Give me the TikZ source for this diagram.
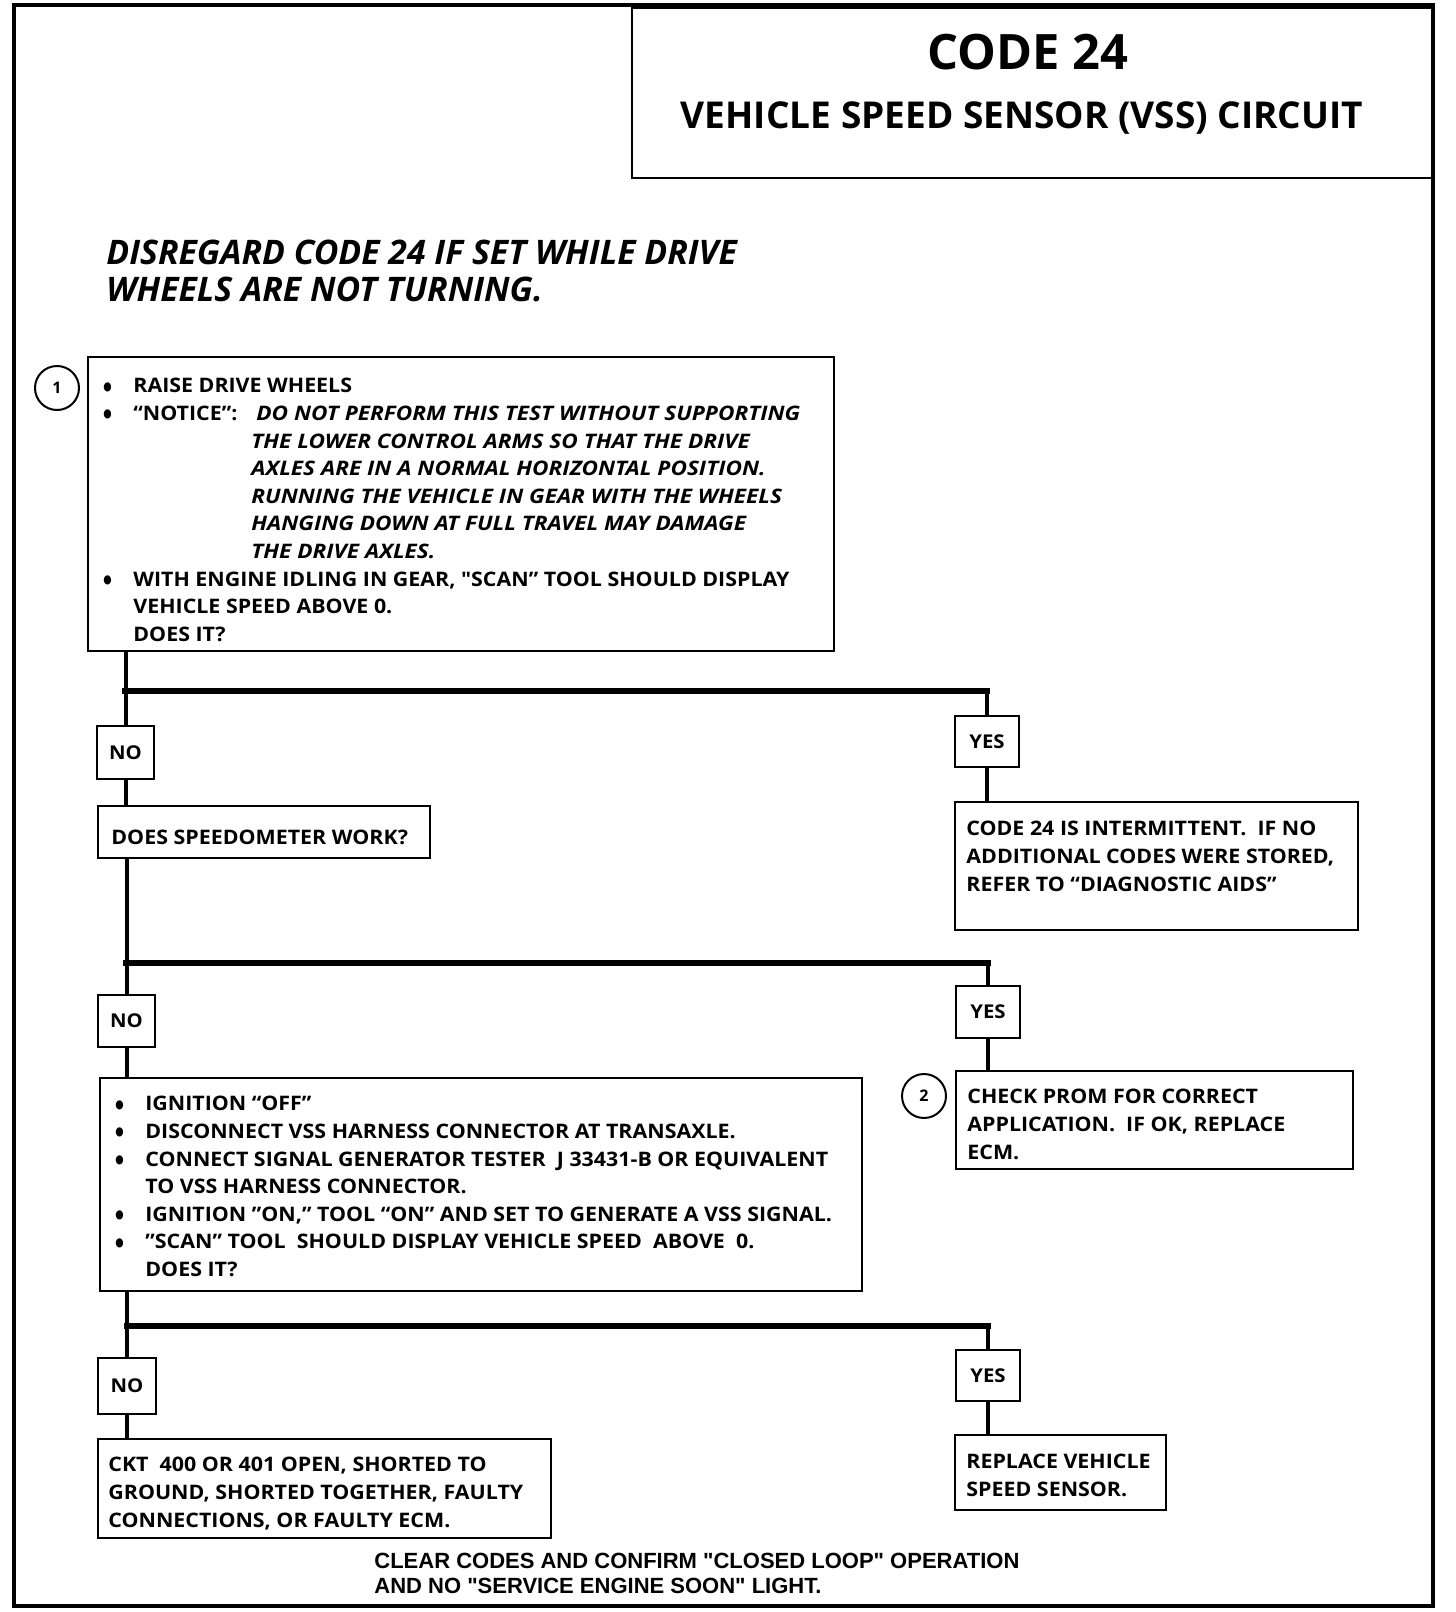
\documentclass[tikz,border=0pt]{standalone}
\usepackage{fontspec}
\setmainfont{Open Sans}
\newfontfamily\body{Open Sans}[FakeStretch=1.07]
\newfontfamily\bodyit{Open Sans}[FakeStretch=1.13]
\newfontfamily\helv{Liberation Sans}
\newfontfamily\dvs{DejaVu Sans}
\newcommand\bla{\makebox[15pt][l]{\raisebox{1.3pt}{\dvs\fontsize{6}{6}\selectfont\scalebox{0.8}[1]{●}}}}
\begin{document}
\begin{tikzpicture}[x=0.5pt,y=-0.5pt,
  box/.style={draw, line width=1pt, anchor=north west, inner sep=0pt, outer sep=0pt},
  txt/.style={anchor=north west, inner sep=0pt, align=left, font=\body\bfseries\fontsize{10}{13.8}\selectfont},
  one/.style={anchor=base west, inner sep=0pt, font=\body\bfseries\fontsize{10}{13.8}\selectfont},
  lbl/.style={draw, line width=1pt, inner sep=0pt, outer sep=0pt, font=\body\bfseries\fontsize{9.5}{11}\selectfont},
  num/.style={circle, draw, line width=1pt, minimum size=22pt, inner sep=0pt, font=\bfseries\fontsize{8}{9}\selectfont},
  hline/.style={line width=3.2pt, line cap=rect},
  vline/.style={line width=2pt}]
\useasboundingbox (0,0) rectangle (1456,1612);
\draw[line width=2pt] (14,5) rectangle (1433,1606);

% title
\node[box, minimum width=400pt, minimum height=85pt] (title) at (632,8) {};
\node[anchor=base, inner sep=0pt, font=\bfseries\fontsize{24.4}{28}\selectfont] (code) at (1028,69.5) {CODE 24};
\node[anchor=base, inner sep=0pt, font=\bfseries\fontsize{18.5}{22}\selectfont] (vss) at (1022,128.5) {VEHICLE SPEED SENSOR (VSS) CIRCUIT};

\node[anchor=north west, inner sep=0pt, align=left, font=\bfseries\itshape\fontsize{16.9}{18.5}\selectfont] (dis) at (106,240) {DISREGARD CODE 24 IF SET WHILE DRIVE\\WHEELS ARE NOT TURNING.};

% step 1
\node[num] (c1) at (57,388) {1};
\node[box, minimum width=373pt, minimum height=147pt] (b1) at (88,357) {};
\node[txt] (t1) at (103,378) {\bla RAISE DRIVE WHEELS\\
\bla\makebox[61.5pt][l]{“NOTICE”:}{\bodyit\itshape DO NOT PERFORM THIS TEST WITHOUT SUPPORTING}\\
\hspace*{74pt}{\bodyit\itshape THE LOWER CONTROL ARMS SO THAT THE DRIVE}\\
\hspace*{74pt}{\bodyit\itshape AXLES ARE IN A NORMAL HORIZONTAL POSITION.}\\
\hspace*{74pt}{\bodyit\itshape RUNNING THE VEHICLE IN GEAR WITH THE WHEELS}\\
\hspace*{74pt}{\bodyit\itshape HANGING DOWN AT FULL TRAVEL MAY DAMAGE}\\
\hspace*{74pt}{\bodyit\itshape THE DRIVE AXLES.}\\
\bla WITH ENGINE IDLING IN GEAR, "SCAN” TOOL SHOULD DISPLAY\\
\hspace*{15pt}VEHICLE SPEED ABOVE 0.\\
\hspace*{15pt}DOES IT?};

\coordinate (br1) at (0,691);
\node[lbl, minimum width=28.5pt, minimum height=26.5pt] (no1) at (125.5,752.5) {NO};
\node[lbl, minimum width=32pt, minimum height=25.5pt] (yes1) at (987,741.5) {YES};
\node[box, minimum width=166pt, minimum height=26pt] (spd) at (98,806) {};
\node[one] (tspd) at (111,844) {DOES SPEEDOMETER WORK?};
\node[box, minimum width=201.5pt, minimum height=64pt] (int) at (955,802) {};
\node[txt] (tint) at (966,821) {CODE 24 IS INTERMITTENT.\ \ IF NO\\ADDITIONAL CODES WERE STORED,\\REFER TO “DIAGNOSTIC AIDS”};

% step 2
\coordinate (br2) at (0,963);
\node[lbl, minimum width=28.5pt, minimum height=26pt] (no2) at (126.5,1021) {NO};
\node[lbl, minimum width=32pt, minimum height=26pt] (yes2) at (988,1012) {YES};
\node[box, minimum width=381pt, minimum height=106.5pt] (b3) at (100,1078) {};
\node[txt] (t3) at (115,1096) {\bla IGNITION “OFF”\\
\bla DISCONNECT VSS HARNESS CONNECTOR AT TRANSAXLE.\\
\bla CONNECT SIGNAL GENERATOR TESTER\ \ J 33431-B OR EQUIVALENT\\
\hspace*{15pt}TO VSS HARNESS CONNECTOR.\\
\bla IGNITION ”ON,” TOOL “ON” AND SET TO GENERATE A VSS SIGNAL.\\
\bla ”SCAN” TOOL\ \ SHOULD DISPLAY VEHICLE SPEED\ \ ABOVE\ \ 0.\\
\hspace*{15pt}DOES IT?};
\node[num] (c2) at (924,1096) {2};
\node[box, minimum width=198.5pt, minimum height=49pt] (prom) at (956,1071) {};
\node[txt] (tprom) at (967,1089) {CHECK PROM FOR CORRECT\\APPLICATION.\ \ IF OK, REPLACE\\ECM.};

% step 3
\coordinate (br3) at (0,1326);
\node[lbl, minimum width=29pt, minimum height=28pt] (no3) at (127,1386) {NO};
\node[lbl, minimum width=32pt, minimum height=25.5pt] (yes3) at (988,1375.5) {YES};
\node[box, minimum width=226.5pt, minimum height=49.5pt] (ckt) at (98,1439) {};
\node[txt] (tckt) at (108,1457) {CKT\ \ 400 OR 401 OPEN, SHORTED TO\\GROUND, SHORTED TOGETHER, FAULTY\\CONNECTIONS, OR FAULTY ECM.};
\node[box, minimum width=105.5pt, minimum height=37.5pt] (repl) at (955,1435) {};
\node[txt] (trepl) at (966,1454) {REPLACE VEHICLE\\SPEED SENSOR.};

\node[anchor=north west, inner sep=0pt, align=left, font=\helv\bfseries\fontsize{11}{12.3}\selectfont] (foot) at (374,1553) {CLEAR CODES AND CONFIRM "CLOSED LOOP" OPERATION\\AND NO "SERVICE ENGINE SOON" LIGHT.};

% connectors
\draw[vline] (b1.south -| no1.north) -- (no1.north);
\draw[hline] (br1 -| no1.north) -- (br1 -| yes1.north);
\draw[vline] (br1 -| yes1.north) -- (yes1.north);
\draw[vline] (no1.south) -- (no1.south |- spd.north);
\draw[vline] (yes1.south) -- (yes1.south |- int.north);

\draw[vline] (spd.south -| no2.north) -- (no2.north);
\draw[hline] (br2 -| no2.north) -- (br2 -| yes2.north);
\draw[vline] (br2 -| yes2.north) -- (yes2.north);
\draw[vline] (no2.south) -- (no2.south |- b3.north);
\draw[vline] (yes2.south) -- (yes2.south |- prom.north);

\draw[vline] (b3.south -| no3.north) -- (no3.north);
\draw[hline] (br3 -| no3.north) -- (br3 -| yes3.north);
\draw[vline] (br3 -| yes3.north) -- (yes3.north);
\draw[vline] (no3.south) -- (no3.south |- ckt.north);
\draw[vline] (yes3.south) -- (yes3.south |- repl.north);
\end{tikzpicture}
\end{document}
